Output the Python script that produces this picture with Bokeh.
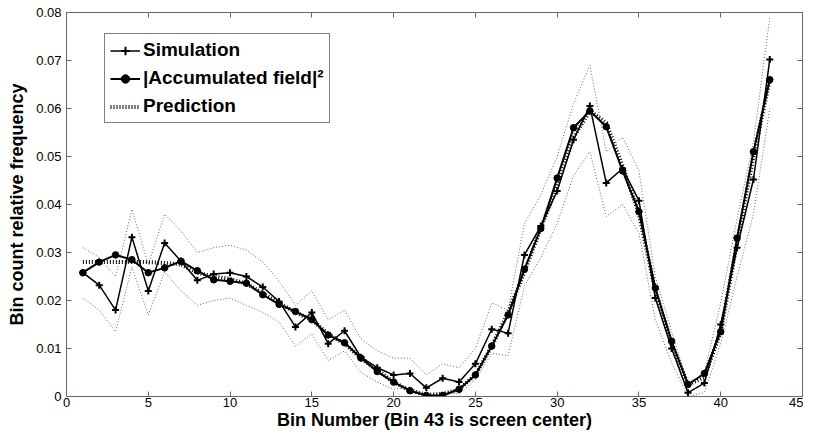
from bokeh.plotting import figure
from bokeh.models import LinearAxis, FixedTicker, Legend, LegendItem, Range1d
from bokeh.embed import file_html
from bokeh.resources import INLINE

bins = list(range(1, 44))
simulation = [0.0258, 0.0232, 0.0180, 0.0332, 0.0220, 0.0320, 0.0282, 0.0242, 0.0255, 0.0258,
              0.0250, 0.0228, 0.0198, 0.0145, 0.0175, 0.0110, 0.0137, 0.0082, 0.0060, 0.0045,
              0.0048, 0.0018, 0.0038, 0.0030, 0.0068, 0.0140, 0.0132, 0.0295, 0.0355, 0.0428,
              0.0535, 0.0605, 0.0445, 0.0475, 0.0408, 0.0205, 0.0100, 0.0008, 0.0028, 0.0150,
              0.0310, 0.0452, 0.0702]
accumulated = [0.0258, 0.0280, 0.0295, 0.0285, 0.0258, 0.0268, 0.0282, 0.0262, 0.0243, 0.0240,
               0.0236, 0.0212, 0.0192, 0.0177, 0.0160, 0.0128, 0.0112, 0.0080, 0.0052, 0.0030,
               0.0012, 0.0002, 0.0002, 0.0015, 0.0045, 0.0105, 0.0170, 0.0265, 0.0350, 0.0455,
               0.0560, 0.0595, 0.0562, 0.0470, 0.0385, 0.0226, 0.0115, 0.0025, 0.0048, 0.0135,
               0.0330, 0.0510, 0.0660]
prediction = [0.0280, 0.0280, 0.0280, 0.0280, 0.0280, 0.0278, 0.0275, 0.0258, 0.0250, 0.0245,
              0.0235, 0.0215, 0.0195, 0.0175, 0.0160, 0.0130, 0.0110, 0.0080, 0.0055, 0.0030,
              0.0012, 0.0004, 0.0005, 0.0015, 0.0045, 0.0105, 0.0175, 0.0260, 0.0350, 0.0440,
              0.0540, 0.0595, 0.0570, 0.0480, 0.0380, 0.0220, 0.0110, 0.0025, 0.0040, 0.0135,
              0.0320, 0.0500, 0.0660]
pred_upper = [0.0310, 0.0290, 0.0250, 0.0390, 0.0275, 0.0380, 0.0345, 0.0300, 0.0310, 0.0315,
              0.0305, 0.0280, 0.0240, 0.0190, 0.0220, 0.0160, 0.0180, 0.0120, 0.0095, 0.0080,
              0.0080, 0.0045, 0.0068, 0.0060, 0.0100, 0.0195, 0.0180, 0.0360, 0.0420, 0.0500,
              0.0610, 0.0690, 0.0510, 0.0540, 0.0470, 0.0250, 0.0135, 0.0025, 0.0050, 0.0195,
              0.0370, 0.0530, 0.0790]
pred_lower = [0.0205, 0.0180, 0.0135, 0.0270, 0.0170, 0.0260, 0.0220, 0.0190, 0.0200, 0.0205,
              0.0190, 0.0175, 0.0155, 0.0105, 0.0130, 0.0075, 0.0095, 0.0050, 0.0030, 0.0015,
              0.0020, 0.0000, 0.0010, 0.0005, 0.0035, 0.0090, 0.0085, 0.0230, 0.0290, 0.0360,
              0.0460, 0.0510, 0.0375, 0.0400, 0.0340, 0.0160, 0.0070, 0.0000, 0.0008, 0.0110,
              0.0250, 0.0380, 0.0600]
x_ticks = [0, 5, 10, 15, 20, 25, 30, 35, 40, 45]
y_ticks = [0, 0.01, 0.02, 0.03, 0.04, 0.05, 0.06, 0.07, 0.08]
y_tick_labels = ["0", "0.01", "0.02", "0.03", "0.04", "0.05", "0.06", "0.07", "0.08"]
x_label = "Bin Number (Bin 43 is screen center)"
y_label = "Bin count relative frequency"

FONT = "Liberation Sans"
AX = "#666666"

p = figure(width=803, height=432, x_range=Range1d(0, 45), y_range=Range1d(0, 0.08),
           output_backend="svg", toolbar_location=None,
           min_border_left=66, min_border_right=1, min_border_top=12, min_border_bottom=30)
p.grid.visible = False
p.outline_line_color = AX
p.outline_line_width = 1
p.background_fill_color = "white"
p.border_fill_color = "white"

for ax in (p.xaxis[0], p.yaxis[0]):
    ax.axis_line_color = AX
    ax.major_tick_line_color = AX
    ax.major_tick_in = 5
    ax.major_tick_out = 0
    ax.minor_tick_line_color = None
    ax.major_label_text_font = FONT
    ax.major_label_text_font_size = "13px"
    ax.major_label_text_color = "black"
    ax.axis_label_text_font = FONT
    ax.axis_label_text_font_style = "bold"
    ax.axis_label_text_color = "black"

p.xaxis.ticker = FixedTicker(ticks=x_ticks)
p.yaxis.ticker = FixedTicker(ticks=y_ticks)
p.yaxis.major_label_overrides = {t: s for t, s in zip(y_ticks, y_tick_labels)}
p.xaxis.axis_label = x_label
p.yaxis.axis_label = y_label
p.xaxis.axis_label_text_font_size = "18px"
p.yaxis.axis_label_text_font_size = "18px"
p.xaxis.major_label_standoff = 1
p.yaxis.major_label_standoff = 5
p.xaxis.axis_label_standoff = 0
p.yaxis.axis_label_standoff = 6

# tick marks only (MATLAB box style) on the top and right edges
for side, ticks in (("above", x_ticks), ("right", y_ticks)):
    a = LinearAxis(ticker=FixedTicker(ticks=ticks), major_label_text_font_size="1px",
                   major_label_text_color=None, major_label_standoff=0,
                   major_tick_in=5, major_tick_out=0,
                   minor_tick_line_color=None, axis_line_color=AX, major_tick_line_color=AX)
    p.add_layout(a, side)

up = p.line(bins, pred_upper, line_color="#666666", line_width=1, line_dash="1 2")
lo = p.line(bins, pred_lower, line_color="#666666", line_width=1, line_dash="1 2")
pr = p.line(bins, prediction, line_color="black", line_width=4, line_dash="1 2")
al = p.line(bins, accumulated, line_color="black", line_width=2)
am = p.scatter(bins, accumulated, marker="circle", size=6.5, fill_color="black", line_color="black")
sl = p.line(bins, simulation, line_color="black", line_width=1.5)
sm = p.scatter(bins, simulation, marker="cross", size=7, line_color="black", line_width=2)

legend = Legend(items=[
    LegendItem(label="Simulation", renderers=[sl, sm]),
    LegendItem(label="|Accumulated field|\u00b2", renderers=[al, am]),
    LegendItem(label="Prediction", renderers=[pr]),
], location=(38, 273))
legend.label_text_font = FONT
legend.label_text_font_style = "bold"
legend.label_text_font_size = "19px"
legend.label_text_color = "black"
legend.glyph_width = 30
legend.glyph_height = 21
legend.label_height = 21
legend.spacing = 6
legend.padding = 5
legend.margin = 0
legend.label_standoff = 3
legend.border_line_color = "black"
legend.border_line_width = 1
legend.background_fill_color = "white"
legend.background_fill_alpha = 1
p.add_layout(legend, "center")

open("out.html", "w").write(file_html(p, INLINE))
